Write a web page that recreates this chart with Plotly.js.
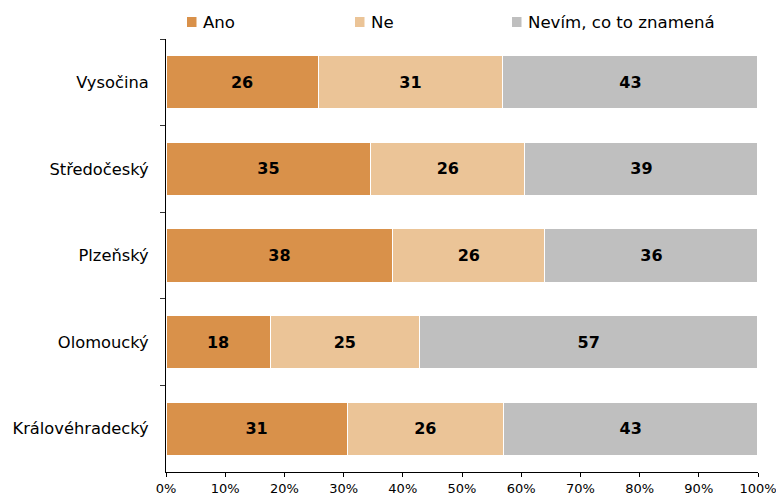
<!DOCTYPE html>
<html>
<head>
<meta charset="utf-8">
<script src="https://cdn.plot.ly/plotly-3.0.1.min.js"></script>
<style>html,body{margin:0;padding:0;background:#fff;}#chart{width:776px;height:498px;}</style>
</head>
<body>
<div id="chart"></div>
<script>
const regions = ["Vysočina", "Středočeský", "Plzeňský", "Olomoucký", "Královéhradecký"];
const ano = [25.7, 34.6, 38.3, 17.6, 30.6];
const ne = [31.2, 26.0, 25.7, 25.2, 26.4];
const nevim = [43.1, 39.4, 36.0, 57.2, 43.0];
const seriesNames = ["Ano", "Ne", "Nevím, co to znamená"];
const colors = ["#D9914A", "#EBC497", "#BFBFBF"];
const xTicks = [0, 10, 20, 30, 40, 50, 60, 70, 80, 90, 100];
const xTickLabels = ["0%", "10%", "20%", "30%", "40%", "50%", "60%", "70%", "80%", "90%", "100%"];

const font = "DejaVu Sans, Verdana, sans-serif";
const W = 776, H = 498;
const M = {l: 166, r: 18, t: 39, b: 26};
const plotW = W - M.l - M.r, plotH = H - M.t - M.b;
const px = v => (v - M.l) / plotW;
const py = v => (H - M.b - v) / plotH;

const data = [ano, ne, nevim].map((vals, i) => ({
  type: "bar",
  orientation: "h",
  name: seriesNames[i],
  y: regions,
  x: vals,
  marker: {color: colors[i], line: {color: "#ffffff", width: 1.2}},
  texttemplate: "%{x:.0f}",
  textposition: "inside",
  insidetextanchor: "middle",
  textangle: 0,
  constraintext: "none",
  textfont: {family: font, size: 16, color: "#000000", weight: "bold"},
  hoverinfo: "none"
}));

// custom legend (matching the reference's compact swatch/text spacing)
const legendSwatchX = [187, 355, 512];
const legendTextX = [202, 370, 527];
const legendY = 22;
const shapes = seriesNames.map((n, i) => ({
  type: "rect", xref: "paper", yref: "paper",
  x0: px(legendSwatchX[i]), x1: px(legendSwatchX[i] + 9.5),
  y0: py(legendY - 5), y1: py(legendY + 5),
  fillcolor: colors[i], line: {width: 0}
}));
const annotations = seriesNames.map((n, i) => ({
  text: n, xref: "paper", yref: "paper",
  x: px(legendTextX[i] - 1), y: py(legendY),
  xanchor: "left", yanchor: "middle",
  showarrow: false,
  font: {family: font, size: 16.6, color: "#000000"}
}));

const layout = {
  width: W, height: H,
  margin: M,
  barmode: "stack",
  bargap: 0.385,
  paper_bgcolor: "#ffffff",
  plot_bgcolor: "#ffffff",
  font: {family: font, size: 14, color: "#000000"},
  showlegend: false,
  shapes: shapes,
  annotations: annotations,
  xaxis: {
    range: [0, 100],
    tickvals: xTicks,
    ticktext: xTickLabels,
    showgrid: false,
    zeroline: false,
    showline: true,
    linecolor: "#000000",
    linewidth: 1,
    ticks: "outside",
    ticklen: 4,
    tickcolor: "#000000",
    ticklabeloverflow: "allow",
    tickfont: {family: font, size: 13, color: "#000000"},
    automargin: false,
    fixedrange: true
  },
  yaxis: {
    type: "category",
    autorange: "reversed",
    showgrid: false,
    showline: true,
    linecolor: "#000000",
    linewidth: 1,
    ticks: "outside",
    tickson: "boundaries",
    ticklen: 5,
    tickcolor: "#333333",
    ticklabelstandoff: 13,
    tickfont: {family: font, size: 16.3, color: "#000000"},
    automargin: false,
    fixedrange: true
  }
};

Plotly.newPlot("chart", data, layout, {displayModeBar: false, staticPlot: true});
</script>
</body>
</html>
